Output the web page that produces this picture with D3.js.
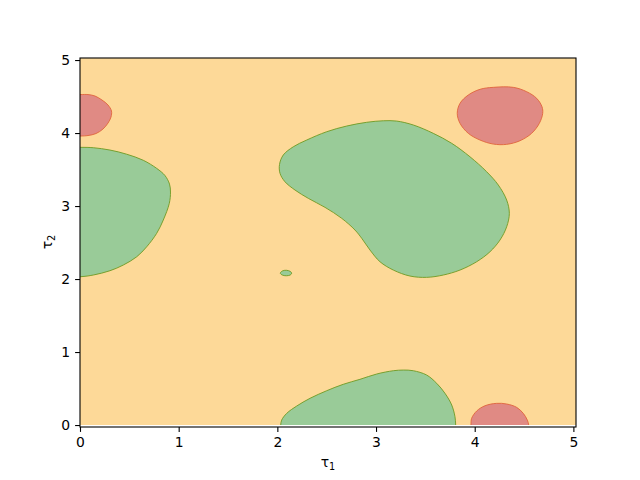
<!DOCTYPE html>
<html>
<head>
<meta charset="utf-8">
<script src="https://cdn.jsdelivr.net/npm/d3@7"></script>
<style>
  body { margin: 0; background: #fff; }
  svg { display: block; }
  text { font-family: "DejaVu Sans", sans-serif; }
</style>
</head>
<body>
<div id="chart"></div>
<script>
// axis ticks
const tau1Ticks = [0, 1, 2, 3, 4, 5];
const tau2Ticks = [0, 1, 2, 3, 4, 5];
const gridMax = 5.0265; // grid runs 0 .. 1.6*pi

// region outlines, [tau1, tau2]
// points outside the grid get clipped at the border
const redTopLeft = [
  [-0.2, 4.53], [0, 4.527], [0.081, 4.527], [0.152, 4.507], [0.223, 4.452],
  [0.284, 4.384], [0.319, 4.301], [0.314, 4.219], [0.284, 4.137], [0.233, 4.055],
  [0.162, 3.993], [0.081, 3.966], [0, 3.959], [-0.2, 3.96]
];
const greenLeft = [
  [-0.2, 3.80], [0.007, 3.804], [0.135, 3.799], [0.304, 3.767], [0.473, 3.710],
  [0.641, 3.627], [0.777, 3.516], [0.861, 3.418], [0.907, 3.301], [0.917, 3.192],
  [0.905, 3.037], [0.844, 2.808], [0.777, 2.626], [0.676, 2.442], [0.575, 2.305],
  [0.439, 2.192], [0.304, 2.114], [0.135, 2.055], [0.007, 2.032], [-0.2, 2.03]
];
const greenDot = [
  [2.03, 2.08], [2.05, 2.11], [2.09, 2.12], [2.13, 2.105], [2.145, 2.08],
  [2.13, 2.055], [2.09, 2.045], [2.05, 2.055]
];
const greenMiddle = [
  [2.022, 3.570], [2.060, 3.699], [2.162, 3.812], [2.297, 3.904], [2.500, 4.018],
  [2.703, 4.096], [2.905, 4.147], [3.074, 4.168], [3.209, 4.164], [3.378, 4.110],
  [3.580, 3.996], [3.767, 3.859], [3.952, 3.675], [4.121, 3.470], [4.239, 3.288],
  [4.324, 3.082], [4.351, 2.900], [4.324, 2.716], [4.256, 2.534], [4.155, 2.374],
  [4.020, 2.237], [3.851, 2.123], [3.682, 2.055], [3.513, 2.023], [3.344, 2.041],
  [3.175, 2.123], [3.040, 2.237], [2.939, 2.397], [2.855, 2.558], [2.787, 2.671],
  [2.652, 2.832], [2.483, 2.982], [2.314, 3.105], [2.179, 3.219], [2.077, 3.333],
  [2.027, 3.448]
];
const redTopRight = [
  [3.823, 4.270], [3.851, 4.407], [3.935, 4.521], [4.054, 4.599], [4.188, 4.626],
  [4.391, 4.626], [4.527, 4.566], [4.628, 4.475], [4.682, 4.360], [4.689, 4.270],
  [4.655, 4.133], [4.577, 3.996], [4.459, 3.895], [4.324, 3.845], [4.188, 3.849],
  [4.054, 3.904], [3.935, 3.996], [3.851, 4.133]
];
const greenBottom = [
  [2.03, -0.2], [2.034, 0], [2.044, 0.068], [2.095, 0.160], [2.196, 0.260],
  [2.331, 0.366], [2.500, 0.470], [2.668, 0.558], [2.837, 0.626], [3.007, 0.699],
  [3.175, 0.744], [3.276, 0.753], [3.378, 0.744], [3.513, 0.685], [3.615, 0.571],
  [3.699, 0.434], [3.767, 0.274], [3.800, 0.114], [3.807, 0], [3.81, -0.2]
];
const redBottom = [
  [3.96, -0.2], [3.962, 0], [3.969, 0.092], [4.020, 0.192], [4.104, 0.264],
  [4.222, 0.297], [4.324, 0.288], [4.425, 0.242], [4.492, 0.160], [4.533, 0.068],
  [4.547, 0], [4.55, -0.2]
];

const GREEN = { fill: "#99cb98", stroke: "#6f9a22" };
const RED = { fill: "#e08a84", stroke: "#e0643c" };
const regions = [
  { pts: greenLeft, ...GREEN },
  { pts: greenDot, ...GREEN },
  { pts: greenMiddle, ...GREEN },
  { pts: greenBottom, ...GREEN },
  { pts: redTopLeft, ...RED },
  { pts: redTopRight, ...RED },
  { pts: redBottom, ...RED }
];

const width = 640, height = 480;
const mLeft = 80, mRight = 576, mTop = 58, mBottom = 427;

const x = d3.scaleLinear().domain([0, gridMax]).range([mLeft, mRight]);
const y = d3.scaleLinear().domain([-0.027, 5.028]).range([mBottom, mTop]);

const svg = d3.select("#chart").append("svg")
  .attr("width", width)
  .attr("height", height);

svg.append("clipPath").attr("id", "grid-clip")
  .append("rect")
  .attr("x", x(0))
  .attr("y", y(gridMax))
  .attr("width", x(gridMax) - x(0))
  .attr("height", y(0) - y(gridMax));

const plot = svg.append("g").attr("clip-path", "url(#grid-clip)");

// base level fills everything
plot.append("rect")
  .attr("x", x(0))
  .attr("y", y(gridMax))
  .attr("width", x(gridMax) - x(0))
  .attr("height", y(0) - y(gridMax))
  .attr("fill", "#fdd998");

const line = d3.line()
  .x(d => x(d[0]))
  .y(d => y(d[1]))
  .curve(d3.curveCatmullRomClosed.alpha(0.5));

plot.selectAll("path.region")
  .data(regions)
  .enter()
  .append("path")
  .attr("class", "region")
  .attr("d", d => line(d.pts))
  .attr("fill", d => d.fill)
  .attr("stroke", d => d.stroke)
  .attr("stroke-width", 0.9);

// axes
const xAxis = d3.axisBottom(x).tickValues(tau1Ticks).tickFormat(d3.format("d"))
  .tickSize(4.9).tickPadding(4.9);
const yAxis = d3.axisLeft(y).tickValues(tau2Ticks).tickFormat(d3.format("d"))
  .tickSize(4.9).tickPadding(4.9);

const gx = svg.append("g").attr("transform", `translate(0,${mBottom})`).call(xAxis);
const gy = svg.append("g").attr("transform", `translate(${mLeft},0)`).call(yAxis);
[gx, gy].forEach(g => {
  g.select(".domain").remove();
  g.selectAll("line").attr("stroke", "#000").attr("stroke-width", 1.1);
  g.selectAll("text").attr("font-size", 13.9).attr("fill", "#000")
    .attr("font-family", "DejaVu Sans, sans-serif");
});

// frame
svg.append("rect")
  .attr("x", mLeft)
  .attr("y", mTop)
  .attr("width", mRight - mLeft)
  .attr("height", mBottom - mTop)
  .attr("fill", "none")
  .attr("stroke", "#000")
  .attr("stroke-width", 1.1);

// axis labels
const xl = svg.append("text")
  .attr("x", (mLeft + mRight) / 2)
  .attr("y", 467)
  .attr("text-anchor", "middle")
  .attr("font-size", 13.9);
xl.append("tspan").text("τ");
xl.append("tspan").attr("font-size", 9.7).attr("dy", 2.5).text("1");

const yl = svg.append("text")
  .attr("transform", "translate(52,242) rotate(-90)")
  .attr("text-anchor", "middle")
  .attr("font-size", 13.9);
yl.append("tspan").text("τ");
yl.append("tspan").attr("font-size", 9.7).attr("dy", 2.5).text("2");
</script>
</body>
</html>
